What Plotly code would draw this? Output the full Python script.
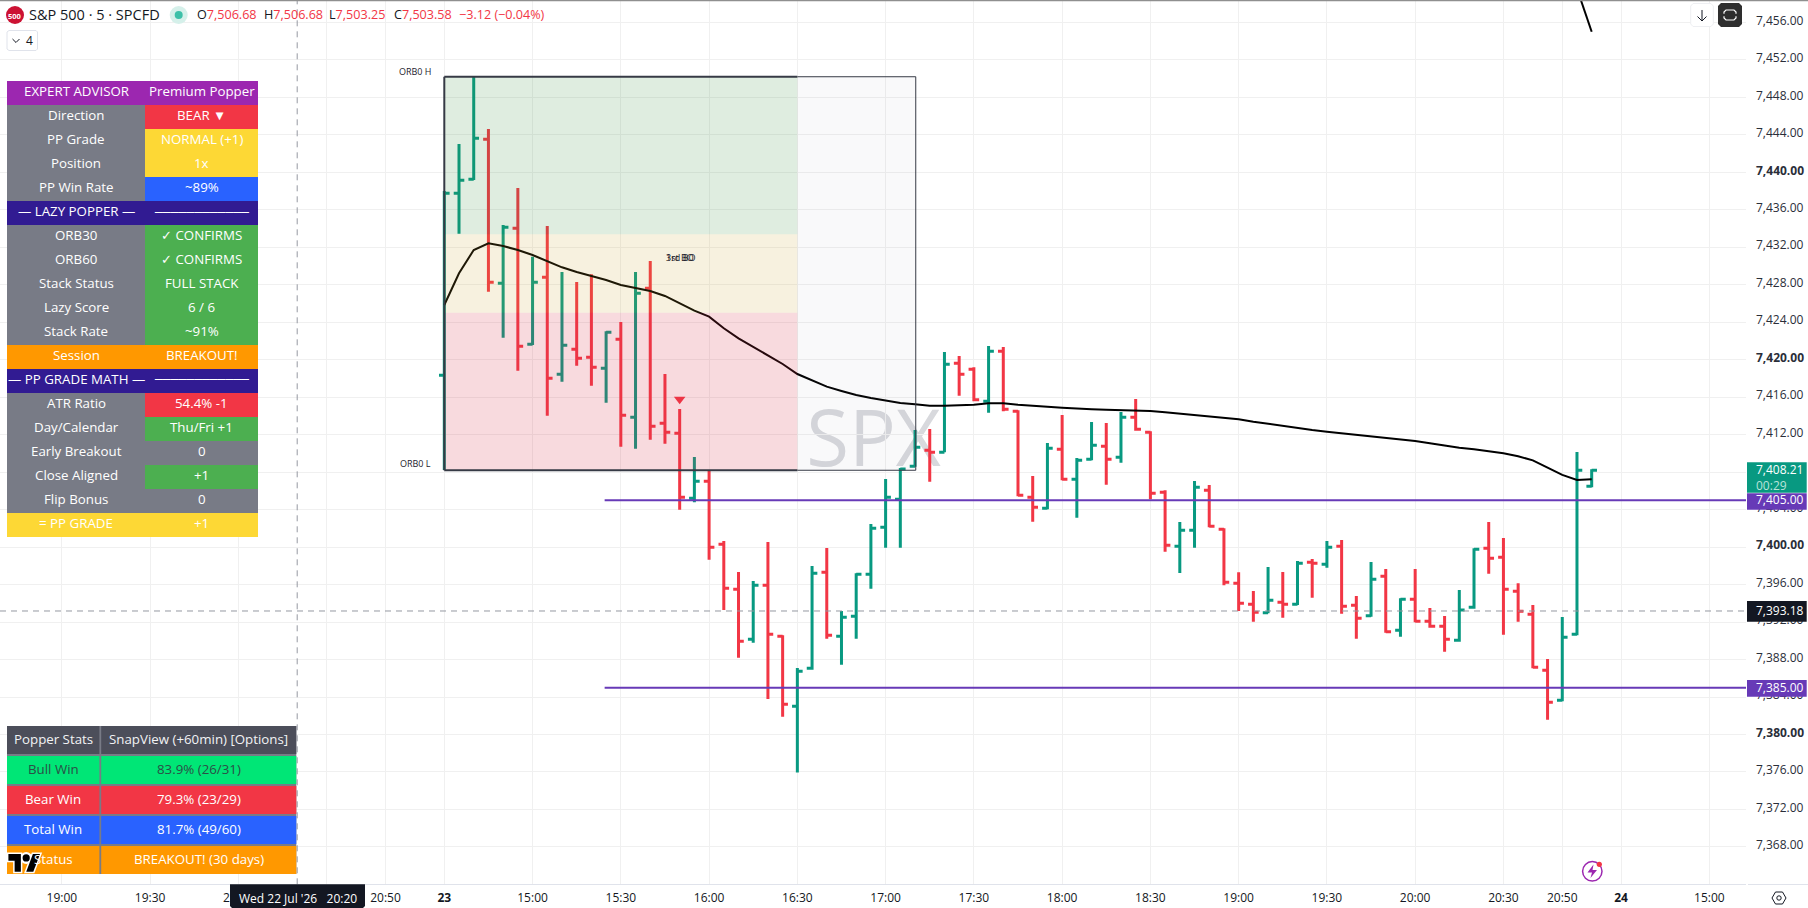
import plotly.graph_objects as go

W, H = 1808, 908
PLOT_R, PLOT_B = 1746, 884.3
FONT = "Open Sans"

# 5-minute OHLC bars; index 0 is the 14:30 open on the 23rd
opens = [7418.34,7437.76,7439.25,7443.52,7428.15,7434.02,7421.64,7428.79,7418.44,7421.11,
         7420.26,7419.08,7422.18,7413.85,7427.62,7413.21,7412.15,7405.21,7407.02,7400.30,
         7395.50,7390.16,7395.92,7390.48,7383.01,7387.07,7397.31,7390.48,7392.62,7397.10,
         7402.11,7405.10,7408.62,7410.33,7410.12,7419.62,7418.98,7415.56,7420.90,7414.49,
         7405.32,7404.14,7410.44,7407.24,7409.37,7410.76,7409.58,7413.85,7412.25,7405.85,
         7400.09,7401.79,7406.06,7401.90,7396.14,7393.90,7393.00,7394.11,7393.90,7398.38,
         7398.17,7400.09,7393.79,7392.68,7396.89,7391.12,7394.43,7392.08,7391.55,7390.05,
         7393.58,7399.87,7398.91,7395.28,7392.83,7386.85,7383.65,7390.70,7406.49]
highs = [7438.00,7443.02,7450.20,7444.62,7434.38,7438.32,7430.99,7434.27,7429.36,7428.29,
         7429.11,7423.03,7424.02,7429.36,7430.53,7418.47,7414.74,7409.62,7408.12,7400.65,
         7397.34,7396.38,7400.55,7390.59,7387.10,7397.98,7399.91,7393.18,7397.21,7402.47,
         7407.27,7408.44,7412.50,7412.60,7420.82,7420.40,7419.19,7421.46,7421.36,7414.60,
         7407.59,7411.11,7414.10,7409.51,7413.35,7413.25,7414.42,7415.81,7412.36,7406.06,
         7402.68,7407.06,7406.63,7402.01,7397.31,7395.32,7397.88,7397.34,7398.52,7398.73,
         7400.65,7400.76,7394.78,7398.41,7397.66,7394.54,7397.66,7393.50,7392.65,7395.42,
         7399.87,7402.68,7400.97,7396.14,7393.82,7388.06,7392.54,7410.15,7408.30]
lows = [7408.23,7433.45,7439.18,7427.26,7422.35,7418.83,7421.57,7414.02,7417.65,7419.36,
        7417.23,7415.41,7410.72,7410.50,7411.46,7411.04,7403.99,7404.78,7398.66,7393.29,
        7388.20,7389.80,7383.79,7381.90,7375.93,7386.92,7390.23,7387.45,7390.23,7395.56,
        7399.94,7399.94,7408.58,7406.98,7410.12,7416.16,7415.56,7414.34,7414.49,7405.42,
        7402.71,7404.04,7407.13,7403.14,7409.26,7406.66,7409.01,7412.42,7405.10,7399.51,
        7397.24,7399.94,7402.11,7395.92,7393.18,7392.04,7392.94,7392.47,7393.82,7394.60,
        7397.80,7392.89,7390.23,7392.57,7390.87,7390.44,7391.98,7391.40,7388.84,7389.90,
        7393.43,7397.16,7390.65,7392.04,7387.07,7381.58,7383.55,7390.59,7406.38]
closes = [7437.76,7439.15,7443.63,7428.26,7434.13,7421.43,7428.26,7418.02,7421.54,7420.15,
          7419.19,7422.92,7414.07,7427.09,7412.89,7412.25,7405.32,7407.02,7399.98,7395.60,
          7389.95,7395.92,7390.70,7383.22,7386.75,7397.21,7390.59,7392.51,7397.10,7402.01,
          7405.32,7408.34,7410.65,7410.12,7419.51,7418.44,7415.73,7420.90,7414.71,7405.53,
          7404.25,7410.55,7407.24,7409.26,7410.87,7409.37,7413.85,7412.57,7405.74,7400.19,
          7401.79,7406.38,7402.22,7396.24,7394.00,7393.04,7394.32,7393.90,7398.27,7398.27,
          7399.98,7393.68,7392.40,7396.56,7390.97,7394.43,7392.08,7391.55,7390.16,7393.29,
          7399.77,7398.81,7395.50,7393.15,7387.17,7383.44,7390.38,7408.20,7408.21]
vwap = [7425.84,7429.22,7431.71,7432.42,7432.13,7431.71,7431.17,7430.53,7429.86,7429.36,
        7428.93,7428.51,7427.97,7427.62,7427.33,7426.80,7426.02,7425.23,7424.59,7423.35,
        7422.28,7421.39,7420.50,7419.54,7418.47,7417.83,7417.12,7416.66,7416.23,7415.91,
        7415.65,7415.38,7415.24,7415.09,7415.09,7415.13,7415.20,7415.35,7415.35,7415.20,
        7415.06,7414.98,7414.88,7414.77,7414.71,7414.66,7414.63,7414.63,7414.53,7414.39,
        7414.24,7414.10,7413.99,7413.85,7413.64,7413.38,7413.14,7412.93,7412.71,7412.50,
        7412.32,7412.15,7411.97,7411.83,7411.64,7411.51,7411.32,7411.08,7410.82,7410.61,
        7410.44,7410.26,7410.01,7409.69,7409.26,7408.47,7407.70,7407.16,7407.24]
bar_index = list(range(len(opens)))

# VWAP of the new session, which starts above the visible range
vwap_next_x = [77, 78]
vwap_next_y = [7459.6, 7455.0]

x_tick_vals = [-26, -20, -14, -8, -4, 0, 6, 12, 18, 24, 30, 36, 42, 48, 54, 60, 66, 72, 76, 80, 86]
x_tick_text = ["19:00", "19:30", "20:00", "20:30", "20:50", "<b>23</b>", "15:00", "15:30", "16:00",
               "16:30", "17:00", "17:30", "18:00", "18:30", "19:00", "19:30", "20:00", "20:30",
               "20:50", "<b>24</b>", "15:00"]
y_tick_vals = list(range(7368, 7457, 4))

# Opening-range zones
ORB_HIGH, ORB_UPPER, ORB_LOWER, ORB_LOW = 7450.2, 7433.4, 7425.0, 7408.2
ORB_START, ORB_END, BOX_END = 0, 24, 32.05
LEVEL_UPPER, LEVEL_LOWER, LEVEL_START = 7405.0, 7385.0, 10.9
CROSS_PRICE, CROSS_BAR = 7393.18, -10
SIGNAL_BAR, SIGNAL_PRICE = 16, 7415.77

GRAY, PURPLE, RED, YELLOW, BLUE, NAVY, GREEN, ORANGE = (
    "#787b86", "#9c27b0", "#f23645", "#fdd835", "#2962ff", "#311b92", "#4caf50", "#ff9800")
RULE = "─" * 12

advisor_rows = [
    ("EXPERT ADVISOR", "Premium Popper", PURPLE, PURPLE),
    ("Direction", "BEAR ▼", GRAY, RED),
    ("PP Grade", "NORMAL (+1)", GRAY, YELLOW),
    ("Position", "1x", GRAY, YELLOW),
    ("PP Win Rate", "~89%", GRAY, BLUE),
    ("— LAZY POPPER —", RULE, NAVY, NAVY),
    ("ORB30", "✓ CONFIRMS", GRAY, GREEN),
    ("ORB60", "✓ CONFIRMS", GRAY, GREEN),
    ("Stack Status", "FULL STACK", GRAY, GREEN),
    ("Lazy Score", "6 / 6", GRAY, GREEN),
    ("Stack Rate", "~91%", GRAY, GREEN),
    ("Session", "BREAKOUT!", ORANGE, ORANGE),
    ("— PP GRADE MATH —", RULE, NAVY, NAVY),
    ("ATR Ratio", "54.4% -1", GRAY, RED),
    ("Day/Calendar", "Thu/Fri +1", GRAY, GREEN),
    ("Early Breakout", "0", GRAY, GRAY),
    ("Close Aligned", "+1", GRAY, GREEN),
    ("Flip Bonus", "0", GRAY, GRAY),
    ("= PP GRADE", "+1", YELLOW, YELLOW),
]
stats_rows = [
    ("Popper Stats", "SnapView (+60min) [Options]", "#4c4e5a", "#f2f3f5"),
    ("Bull Win", "83.9% (26/31)", "#00e676", "#2c4f47"),
    ("Bear Win", "79.3% (23/29)", RED, "#ffffff"),
    ("Total Win", "81.7% (49/60)", BLUE, "#ffffff"),
    ("Status", "BREAKOUT! (30 days)", ORANGE, "#ffffff"),
]
quote_parts = [(196.3, "O", "7,506.68"), (263, "H", "7,506.68"), (328.4, "L", "7,503.25"),
               (392.6, "C", "7,503.58"), (458, "", "−3.12 (−0.04%)")]


def px(x):
    return x / W


def py(y):
    return 1 - y / H


shapes, notes = [], []


def rect(x0, y0, x1, y1, fill, line=None, lw=1, layer="above"):
    shapes.append(dict(type="rect", xref="paper", yref="paper", x0=px(x0), x1=px(x1), y0=py(y0), y1=py(y1),
                       fillcolor=fill, line=dict(width=lw if line else 0, color=line or fill), layer=layer))


def circle(cx, cy, r, fill, line=None, lw=1):
    shapes.append(dict(type="circle", xref="paper", yref="paper", x0=px(cx - r), x1=px(cx + r),
                       y0=py(cy + r), y1=py(cy - r), fillcolor=fill,
                       line=dict(width=lw if line else 0, color=line or fill)))


def poly(points, fill=None, line=None, lw=1, close=True):
    d = "M" + " L".join(f"{px(x):.6f},{py(y):.6f}" for x, y in points) + (" Z" if close else "")
    shapes.append(dict(type="path", xref="paper", yref="paper", path=d, fillcolor=fill or "rgba(0,0,0,0)",
                       line=dict(width=lw if line else 0, color=line or "rgba(0,0,0,0)")))


def text(x, y, s, size=13, color="#ffffff", anchor="center", family=FONT):
    notes.append(dict(xref="paper", yref="paper", x=px(x), y=py(y), text=s, showarrow=False,
                      xanchor=anchor, yanchor="middle", borderpad=0, font=dict(family=family, size=size, color=color)))


def zone(x0, x1, y0, y1, fill):
    shapes.append(dict(type="rect", xref="x", yref="y", x0=x0, x1=x1, y0=y0, y1=y1, fillcolor=fill,
                       line=dict(width=0), layer="above"))


def edge(x0, x1, y0, y1, lw):
    shapes.append(dict(type="line", xref="x", yref="y", x0=x0, x1=x1, y0=y0, y1=y1,
                       line=dict(width=lw, color="#363a45"), layer="above"))


# symbol watermark sits beneath the bars
shapes.append(dict(type="rect", xref="paper", yref="paper", x0=px(792), x1=px(955), y0=py(482), y1=py(400),
                   fillcolor="rgba(0,0,0,0)", line=dict(width=0), layer="below",
                   label=dict(text="SPX", textposition="middle center",
                              font=dict(family=FONT, size=78, color="#d8d9dd"))))

# opening-range box, laid translucently over the bars
zone(ORB_START, ORB_END, ORB_UPPER, ORB_HIGH, "rgba(56,142,60,0.16)")
zone(ORB_START, ORB_END, ORB_LOWER, ORB_UPPER, "rgba(200,160,40,0.15)")
zone(ORB_START, ORB_END, ORB_LOW, ORB_LOWER, "rgba(215,50,70,0.18)")
zone(ORB_END, BOX_END, ORB_LOW, ORB_HIGH, "rgba(120,123,134,0.045)")
edge(ORB_START, ORB_END, ORB_HIGH, ORB_HIGH, 2)
edge(ORB_START, ORB_END, ORB_LOW, ORB_LOW, 2)
edge(ORB_START, ORB_START, ORB_LOW, ORB_HIGH, 2)
edge(ORB_END, BOX_END, ORB_HIGH, ORB_HIGH, 1)
edge(ORB_END, BOX_END, ORB_LOW, ORB_LOW, 1)
edge(BOX_END, BOX_END, ORB_LOW, ORB_HIGH, 1)

text(415, 71.5, "ORB0 H", 9, "#1e222d")
text(415, 463.5, "ORB0 L", 9, "#1e222d")
text(680, 257.5, "3rd BO", 9, "#1e222d")
text(680, 257.5, "1st BO", 9, "#1e222d")

# crosshair
shapes.append(dict(type="line", xref="x", yref="paper", x0=CROSS_BAR, x1=CROSS_BAR, y0=py(PLOT_B), y1=py(1),
                   line=dict(width=1, color="#9598a1", dash="6px,5px"), layer="above"))
shapes.append(dict(type="line", xref="paper", yref="y", x0=0, x1=px(PLOT_R), y0=CROSS_PRICE, y1=CROSS_PRICE,
                   line=dict(width=1, color="#9598a1", dash="6px,5px"), layer="above"))

# advisor table
ROW_H = 24
for n, (left, right, left_fill, right_fill) in enumerate(advisor_rows):
    top = 81 + n * ROW_H
    rect(7, top, 145, top + ROW_H, left_fill)
    rect(145, top, 258, top + ROW_H, right_fill)
    text(76, top + 10, left, 13.3)
    if right == RULE:
        text(201.5, top + 11, right, 13, "#ffffff", "center", "DejaVu Sans")
    else:
        text(201.5, top + 10, right, 13.3)

# stats table
rect(7, 726, 296.3, 874, GRAY)
row_edges = [(726, 754), (756, 784), (786, 814), (816, 844), (846, 874)]
for (label, value, fill, ink), (top, bottom) in zip(stats_rows, row_edges):
    rect(7, top, 99.4, bottom, fill)
    rect(101.2, top, 296.3, bottom, fill)
    text(53.2, (top + bottom) / 2 - 1.5, label, 13.3, ink)
    text(198.7, (top + bottom) / 2 - 1.5, value, 13.3, ink)


def logo_pts(pts):
    return [(8.4 + (x) * 0.89, 854 + (y - 4) * 0.98) for x, y in pts]


# chart-vendor badge
t_shape = logo_pts([(14, 22), (7, 22), (7, 11), (0, 11), (0, 4), (14, 4)])
slash = logo_pts([(28, 22), (20, 22), (27.5, 4), (35.5, 4)])
for pts in (t_shape, slash):
    poly(pts, "#ffffff", "#ffffff", 3)
circle(8.4 + 20 * 0.89, 854 + 4 * 0.98, 5, "#ffffff", "#ffffff", 2)
poly(t_shape, "#000000")
poly(slash, "#000000")
circle(8.4 + 20 * 0.89, 854 + 4 * 0.98, 3.6, "#000000")

# legend strip
rect(0, 0, W, 1.2, "#8f8f8f")
circle(15, 15, 9, "#cc1233")
text(15, 15.5, "<b>500</b>", 7.5, "#ffffff")
text(28, 15, "S&amp;P 500 · 5 · SPCFD", 14.5, "#131722", "left")
circle(178.7, 15, 9, "#d5f0ea")
circle(178.7, 15, 4, "#3cc0a8")
for x, label, value in quote_parts:
    ink = f'<span style="color:#f23645">{value}</span>'
    text(x, 15, label + ink, 12.6, "#131722", "left")

poly([(9, 30.5), (36, 30.5), (37.5, 32), (37.5, 49), (36, 50.5), (9, 50.5), (7, 49), (7, 32)], "#ffffff", "#e0e3eb", 1)
poly([(12.5, 39), (16, 42.5), (19.5, 39)], None, "#131722", 1, close=False)
text(29.5, 41, "4", 12, "#131722")

# top-right buttons
poly([(1693, 3.5), (1711, 3.5), (1713.3, 6), (1713.3, 24), (1711, 26.5), (1693, 26.5), (1690.7, 24), (1690.7, 6)],
     "#ffffff", "#eeeff2", 1)
poly([(1702, 10), (1702, 21)], None, "#131722", 1, close=False)
poly([(1697.5, 16.5), (1702, 21), (1706.5, 16.5)], None, "#131722", 1, close=False)
poly([(1721, 3), (1739, 3), (1742, 6), (1742, 24), (1739, 27), (1721, 27), (1718, 24), (1718, 6)], "#2e2e2e")
poly([(1726, 10), (1734, 10), (1736, 12), (1736, 18), (1734, 20), (1726, 20), (1724, 18), (1724, 12)],
     None, "#ffffff", 1.2)
poly([(1723, 15), (1737, 15)], None, "#2e2e2e", 2.5, close=False)

# price-scale tags, covering the tick labels beneath them
TAG_X0, TAG_X1, TAG_TEXT = 1747, 1806.7, 1755
rect(TAG_X0, 462.3, TAG_X1, 492.8, "#089981")
text(TAG_TEXT, 469.5, "7,408.21", 12, "#ffffff", "left")
text(TAG_TEXT, 485, "00:29", 12, "#b8e3da", "left")
rect(TAG_X0, 493.3, TAG_X1, 509.7, "#673ab7")
text(TAG_TEXT, 500, "7,405.00", 12, "#ffffff", "left")
rect(TAG_X0, 601, TAG_X1, 621.7, "#131722")
text(TAG_TEXT, 610, "7,393.18", 12, "#ffffff", "left")
rect(TAG_X0, 680, TAG_X1, 696.7, "#673ab7")
text(TAG_TEXT, 687, "7,385.00", 12, "#ffffff", "left")

# crosshair time tag
poly([(230, 884.3), (365, 884.3), (365, 906), (363, 908), (232, 908), (230, 906)], "#131722")
text(297.5, 898, "Wed 22 Jul '26&nbsp;&nbsp;&nbsp;20:20", 12, "#ffffff")

# bottom-right widgets
rect(1748, 884, W, 885, "#e0e3eb")
circle(1592.3, 871.3, 9.7, "#ffffff", "#9c27b0", 1.5)
poly([(1593.5, 864.5), (1587.5, 872.5), (1592, 872.5), (1590.5, 878), (1597, 870), (1592.5, 870)], "#9c27b0")
circle(1599.3, 864.3, 2.6, RED)
poly([(1772, 898), (1775.5, 892), (1782.5, 892), (1786, 898), (1782.5, 904), (1775.5, 904)], None, "#131722", 1)
circle(1779, 898, 2.2, "#ffffff", "#131722", 1)

fig = go.Figure()
fig.add_trace(go.Ohlc(x=bar_index, open=opens, high=highs, low=lows, close=closes, tickwidth=0.36,
                      increasing=dict(line=dict(color="#089981", width=3)),
                      decreasing=dict(line=dict(color="#f23645", width=3)),
                      hoverinfo="skip", showlegend=False))
fig.add_trace(go.Scatter(x=bar_index, y=vwap, mode="lines", line=dict(color="#000000", width=2),
                         hoverinfo="skip", showlegend=False))
fig.add_trace(go.Scatter(x=vwap_next_x, y=vwap_next_y, mode="lines", line=dict(color="#000000", width=2),
                         hoverinfo="skip", showlegend=False))
for level in (LEVEL_UPPER, LEVEL_LOWER):
    fig.add_trace(go.Scatter(x=[LEVEL_START, 88.49], y=[level, level], mode="lines",
                             line=dict(color="#673ab7", width=2), hoverinfo="skip", showlegend=False))
fig.add_trace(go.Scatter(x=[SIGNAL_BAR], y=[SIGNAL_PRICE], mode="markers",
                         marker=dict(symbol="triangle-down", size=10, color="#f23645", line=dict(width=0)),
                         hoverinfo="skip", showlegend=False))

y_labels = []
for v in y_tick_vals:
    label = f"{v:,.2f}"
    y_labels.append(f"<b>{label}</b>" if v % 20 == 0 else label)

fig.update_layout(
    width=W, height=H, margin=dict(l=0, r=0, t=0, b=0, pad=0), autosize=False,
    paper_bgcolor="#ffffff", plot_bgcolor="#ffffff", showlegend=False, hovermode=False,
    shapes=shapes, annotations=notes,
    xaxis=dict(domain=[0, PLOT_R / W], range=[-30.204, 88.49], tickmode="array", tickvals=x_tick_vals,
               ticktext=x_tick_text, ticks="", showgrid=True, gridcolor="#f0f0f0", gridwidth=1, zeroline=False,
               showline=True, linecolor="#e0e3eb", linewidth=1, rangeslider=dict(visible=False),
               tickfont=dict(family=FONT, size=12, color="#131722"), ticklabelstandoff=2, automargin=False),
    yaxis=dict(domain=[1 - PLOT_B / H, 1], range=[7364.01, 7458.39], side="right", tickmode="array",
               tickvals=y_tick_vals, ticktext=y_labels, ticks="", showgrid=True, gridcolor="#f0f0f0", gridwidth=1,
               zeroline=False, showline=False, tickfont=dict(family=FONT, size=12, color="#2a2e39"),
               ticklabelstandoff=9, ticklabelshift=-2, automargin=False),
)
fig.write_html("out.html", config=dict(displayModeBar=False))
